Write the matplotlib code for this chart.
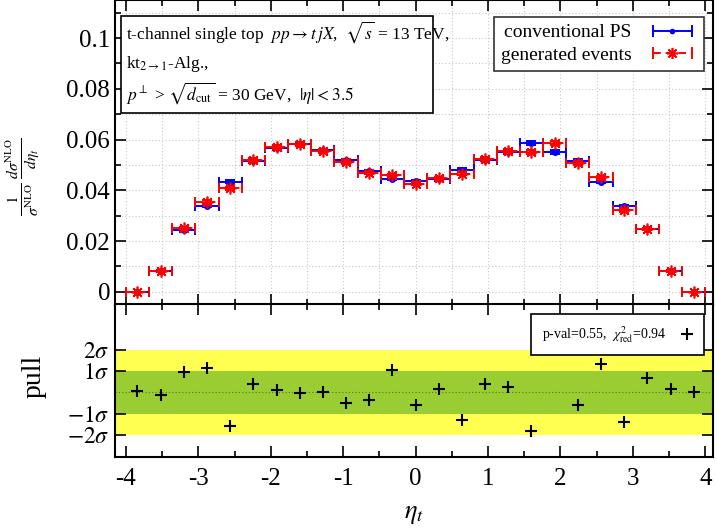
import numpy as np
import matplotlib
matplotlib.use("Agg")
import matplotlib.pyplot as plt
from matplotlib.ticker import MultipleLocator, FixedLocator
from matplotlib.patches import Rectangle
from matplotlib.lines import Line2D
from matplotlib.legend_handler import HandlerLine2D

plt.rcParams['font.family'] = ['Liberation Serif', 'DejaVu Serif']
plt.rcParams['mathtext.fontset'] = 'stix'

# ---------------- data ----------------
bin_centers = [-3.84, -3.52, -3.20, -2.88, -2.56, -2.24, -1.92, -1.60, -1.28, -0.96,
               -0.64, -0.32, 0.00, 0.32, 0.64, 0.96, 1.28, 1.60, 1.92, 2.24,
               2.56, 2.88, 3.20, 3.52, 3.84]
bin_halfwidth = 0.16

conventional_ps = [0.0000, 0.0082, 0.0242, 0.0340, 0.0433, 0.0515, 0.0566, 0.0582, 0.0557, 0.0518,
                   0.0475, 0.0446, 0.0435, 0.0444, 0.0482, 0.0521, 0.0552, 0.0586, 0.0552, 0.0515,
                   0.0434, 0.0337, 0.0247, 0.0081, 0.0000]
generated_events = [0.0000, 0.0082, 0.0252, 0.0354, 0.0409, 0.0519, 0.0570, 0.0583, 0.0555, 0.0511,
                    0.0470, 0.0459, 0.0426, 0.0448, 0.0465, 0.0523, 0.0555, 0.0552, 0.0587, 0.0507,
                    0.0452, 0.0322, 0.0247, 0.0081, 0.0000]
err_conventional = [0.0001, 0.0003, 0.0005, 0.0006, 0.0006, 0.0007, 0.0007, 0.0007, 0.0007, 0.0007,
                    0.0006, 0.0006, 0.0006, 0.0006, 0.0006, 0.0007, 0.0007, 0.0007, 0.0007, 0.0007,
                    0.0006, 0.0006, 0.0005, 0.0003, 0.0001]
err_generated = [0.0001, 0.0003, 0.0005, 0.0006, 0.0006, 0.0007, 0.0007, 0.0007, 0.0007, 0.0007,
                 0.0006, 0.0006, 0.0006, 0.0006, 0.0006, 0.0007, 0.0007, 0.0007, 0.0007, 0.0007,
                 0.0006, 0.0006, 0.0005, 0.0003, 0.0001]

pull_values = [0.05, -0.10, 0.95, 1.15, -1.55, 0.40, 0.12, -0.05, 0.03, -0.50,
               -0.35, 1.05, -0.60, 0.15, -1.30, 0.38, 0.25, -1.80, 2.30, -0.60,
               1.33, -1.36, 0.68, 0.15, 0.02]

pull_ticks = [-2, -1, 1, 2]
pull_ticklabels = [r'$-2\sigma$', r'$-1\sigma$', r'$1\sigma$', r'$2\sigma$']
x_ticks = [-4, -3, -2, -1, 0, 1, 2, 3, 4]

# ---------------- figure ----------------
W, H = 717, 532
fig = plt.figure(figsize=(W / 100, H / 100), dpi=100)

left = 115 / W
width = (713.3 - 115) / W
split = 1 - 304.5 / H
bottom = 1 - 456.7 / H

ax = fig.add_axes([left, split, width, 1 - split])
axp = fig.add_axes([left, bottom, width, split - bottom])

xlim = (-4.15, 4.11)
DASH = (0, (4, 2.5))

# ---------------- top panel ----------------
x = np.array(bin_centers)
xerr = np.full(len(x), bin_halfwidth)

ax.errorbar(x, conventional_ps, xerr=xerr, yerr=err_conventional,
            fmt='o', color='#0000ff', ms=4, lw=1.4, capsize=3.5, capthick=1.4,
            zorder=3)
eb2 = ax.errorbar(x, generated_events, xerr=xerr, yerr=err_generated,
                  fmt='none', ecolor='#ff0000', lw=1.4, capsize=3.5, capthick=1.4,
                  zorder=4)
for lc in eb2[2]:
    lc.set_linestyle(DASH)
ax.plot(x, generated_events, linestyle='none', marker=(8, 2, 0), ms=8.5,
        mew=1.2, color='#ff0000', zorder=5)

# legend handles (horizontal bar with end caps, like the reference key)
h1_line = Line2D([], [], color='#0000ff', lw=1.4, marker='|', ms=8, mew=1.4)
h1_dot = Line2D([], [], color='#0000ff', linestyle='none', marker='o', ms=3)
h2_line = Line2D([], [], color='#ff0000', lw=1.4, linestyle=DASH, marker='|',
                 ms=8, mew=1.4)
h2_star = Line2D([], [], color='#ff0000', linestyle='none', marker=(8, 2, 0),
                 ms=8, mew=1.2)

ax.set_xlim(*xlim)
ax.set_ylim(-0.005, 0.115)
ax.xaxis.set_major_locator(FixedLocator(x_ticks))
ax.xaxis.set_minor_locator(MultipleLocator(0.5))
ax.yaxis.set_minor_locator(MultipleLocator(0.01))
ax.set_yticks([0, 0.02, 0.04, 0.06, 0.08, 0.1])
ax.set_yticklabels(['0', '0.02', '0.04', '0.06', '0.08', '0.1'])
ax.tick_params(axis='x', labelbottom=False)
ax.grid(True, which='both', linestyle=(0, (1, 2)), color='#c8c8c8', lw=0.8)
ax.set_axisbelow(True)

ax.set_ylabel(r'$\frac{1}{\sigma^{\rm NLO}}\,\frac{d\sigma^{\rm NLO}}{d\eta_t}$', fontsize=16)
ax.yaxis.set_label_coords(-0.122, 0.42)

# info box
rect = Rectangle((0.01, 0.629), 0.522, 0.318, transform=ax.transAxes,
                 facecolor='white', edgecolor='black', lw=1.2, zorder=6)
ax.add_patch(rect)
tx = (126 - 115) / 598
ax.text(tx, 1 - 32 / 304.5,
        r't-channel single top  $pp \rightarrow t\,jX$,  $\sqrt{s}$ = 13 TeV,',
        transform=ax.transAxes, fontsize=12.5, va='center', ha='left', zorder=7)
ax.text(tx, 1 - 64 / 304.5, r'kt$_{2\rightarrow 1}$-Alg.,',
        transform=ax.transAxes, fontsize=12.5, va='center', ha='left', zorder=7)
ax.text(tx, 1 - 93 / 304.5,
        r'$p^{\perp}$ > $\sqrt{d_{\rm cut}}$ = 30 GeV,  $|\eta| < 3.5$',
        transform=ax.transAxes, fontsize=12.5, va='center', ha='left', zorder=7)

hmap = {h1_line: HandlerLine2D(numpoints=2), h2_line: HandlerLine2D(numpoints=2),
        h1_dot: HandlerLine2D(numpoints=1), h2_star: HandlerLine2D(numpoints=1)}
leg = ax.legend([(h1_line, h1_dot), (h2_line, h2_star)],
                ['conventional PS', 'generated events'],
                handler_map=hmap,
                loc='upper right', bbox_to_anchor=(0.985, 0.944), borderaxespad=0,
                markerfirst=False, fontsize=14, fancybox=False, framealpha=1,
                edgecolor='#333333', handlelength=2.6, borderpad=0.35,
                labelspacing=0.25, handletextpad=0.8)
leg.get_frame().set_linewidth(1.2)
leg.set_zorder(8)

# ---------------- pull panel ----------------
axp.axhspan(-2, 2, color='#ffff52', lw=0, zorder=0)
axp.axhspan(-1, 1, color='#9acd32', lw=0, zorder=1)
axp.axhline(0, color='#4d7a1a', lw=0.8, linestyle=(0, (1, 2)), zorder=2)
axp.plot(x, pull_values, linestyle='none', marker='+', ms=8, mew=1.5,
         color='black', zorder=3,
         label=r'p-val=0.55,  $\chi^2_{\rm red}$=0.94')
axp.set_xlim(*xlim)
axp.set_ylim(-3.0, 4.1)
axp.xaxis.set_major_locator(FixedLocator(x_ticks))
axp.xaxis.set_minor_locator(MultipleLocator(0.5))
axp.set_xticklabels([str(v) for v in x_ticks])
axp.set_yticks(pull_ticks)
axp.set_yticklabels(pull_ticklabels)
axp.set_xlabel(r'$\eta_t$', fontsize=19, labelpad=10)
axp.set_ylabel('pull', fontsize=20)
axp.yaxis.set_label_coords(-0.115, 0.53)

leg2 = axp.legend(loc='upper right', bbox_to_anchor=(0.985, 0.938), borderaxespad=0,
                  markerfirst=False, fontsize=10, fancybox=False, framealpha=1,
                  edgecolor='black', handlelength=1.0, borderpad=0.75,
                  handletextpad=1.0)
leg2.get_frame().set_linewidth(1.2)
leg2.set_zorder(8)

for a in (ax, axp):
    a.tick_params(which='both', direction='in', top=True, right=True, labelsize=18,
                  width=1.2)
    a.tick_params(which='major', length=8)
    a.tick_params(which='minor', length=4)
    for s in a.spines.values():
        s.set_linewidth(1.5)
axp.tick_params(axis='y', labelsize=17, pad=4)
axp.tick_params(axis='x', pad=8)

fig.savefig('out.png', dpi=100)
